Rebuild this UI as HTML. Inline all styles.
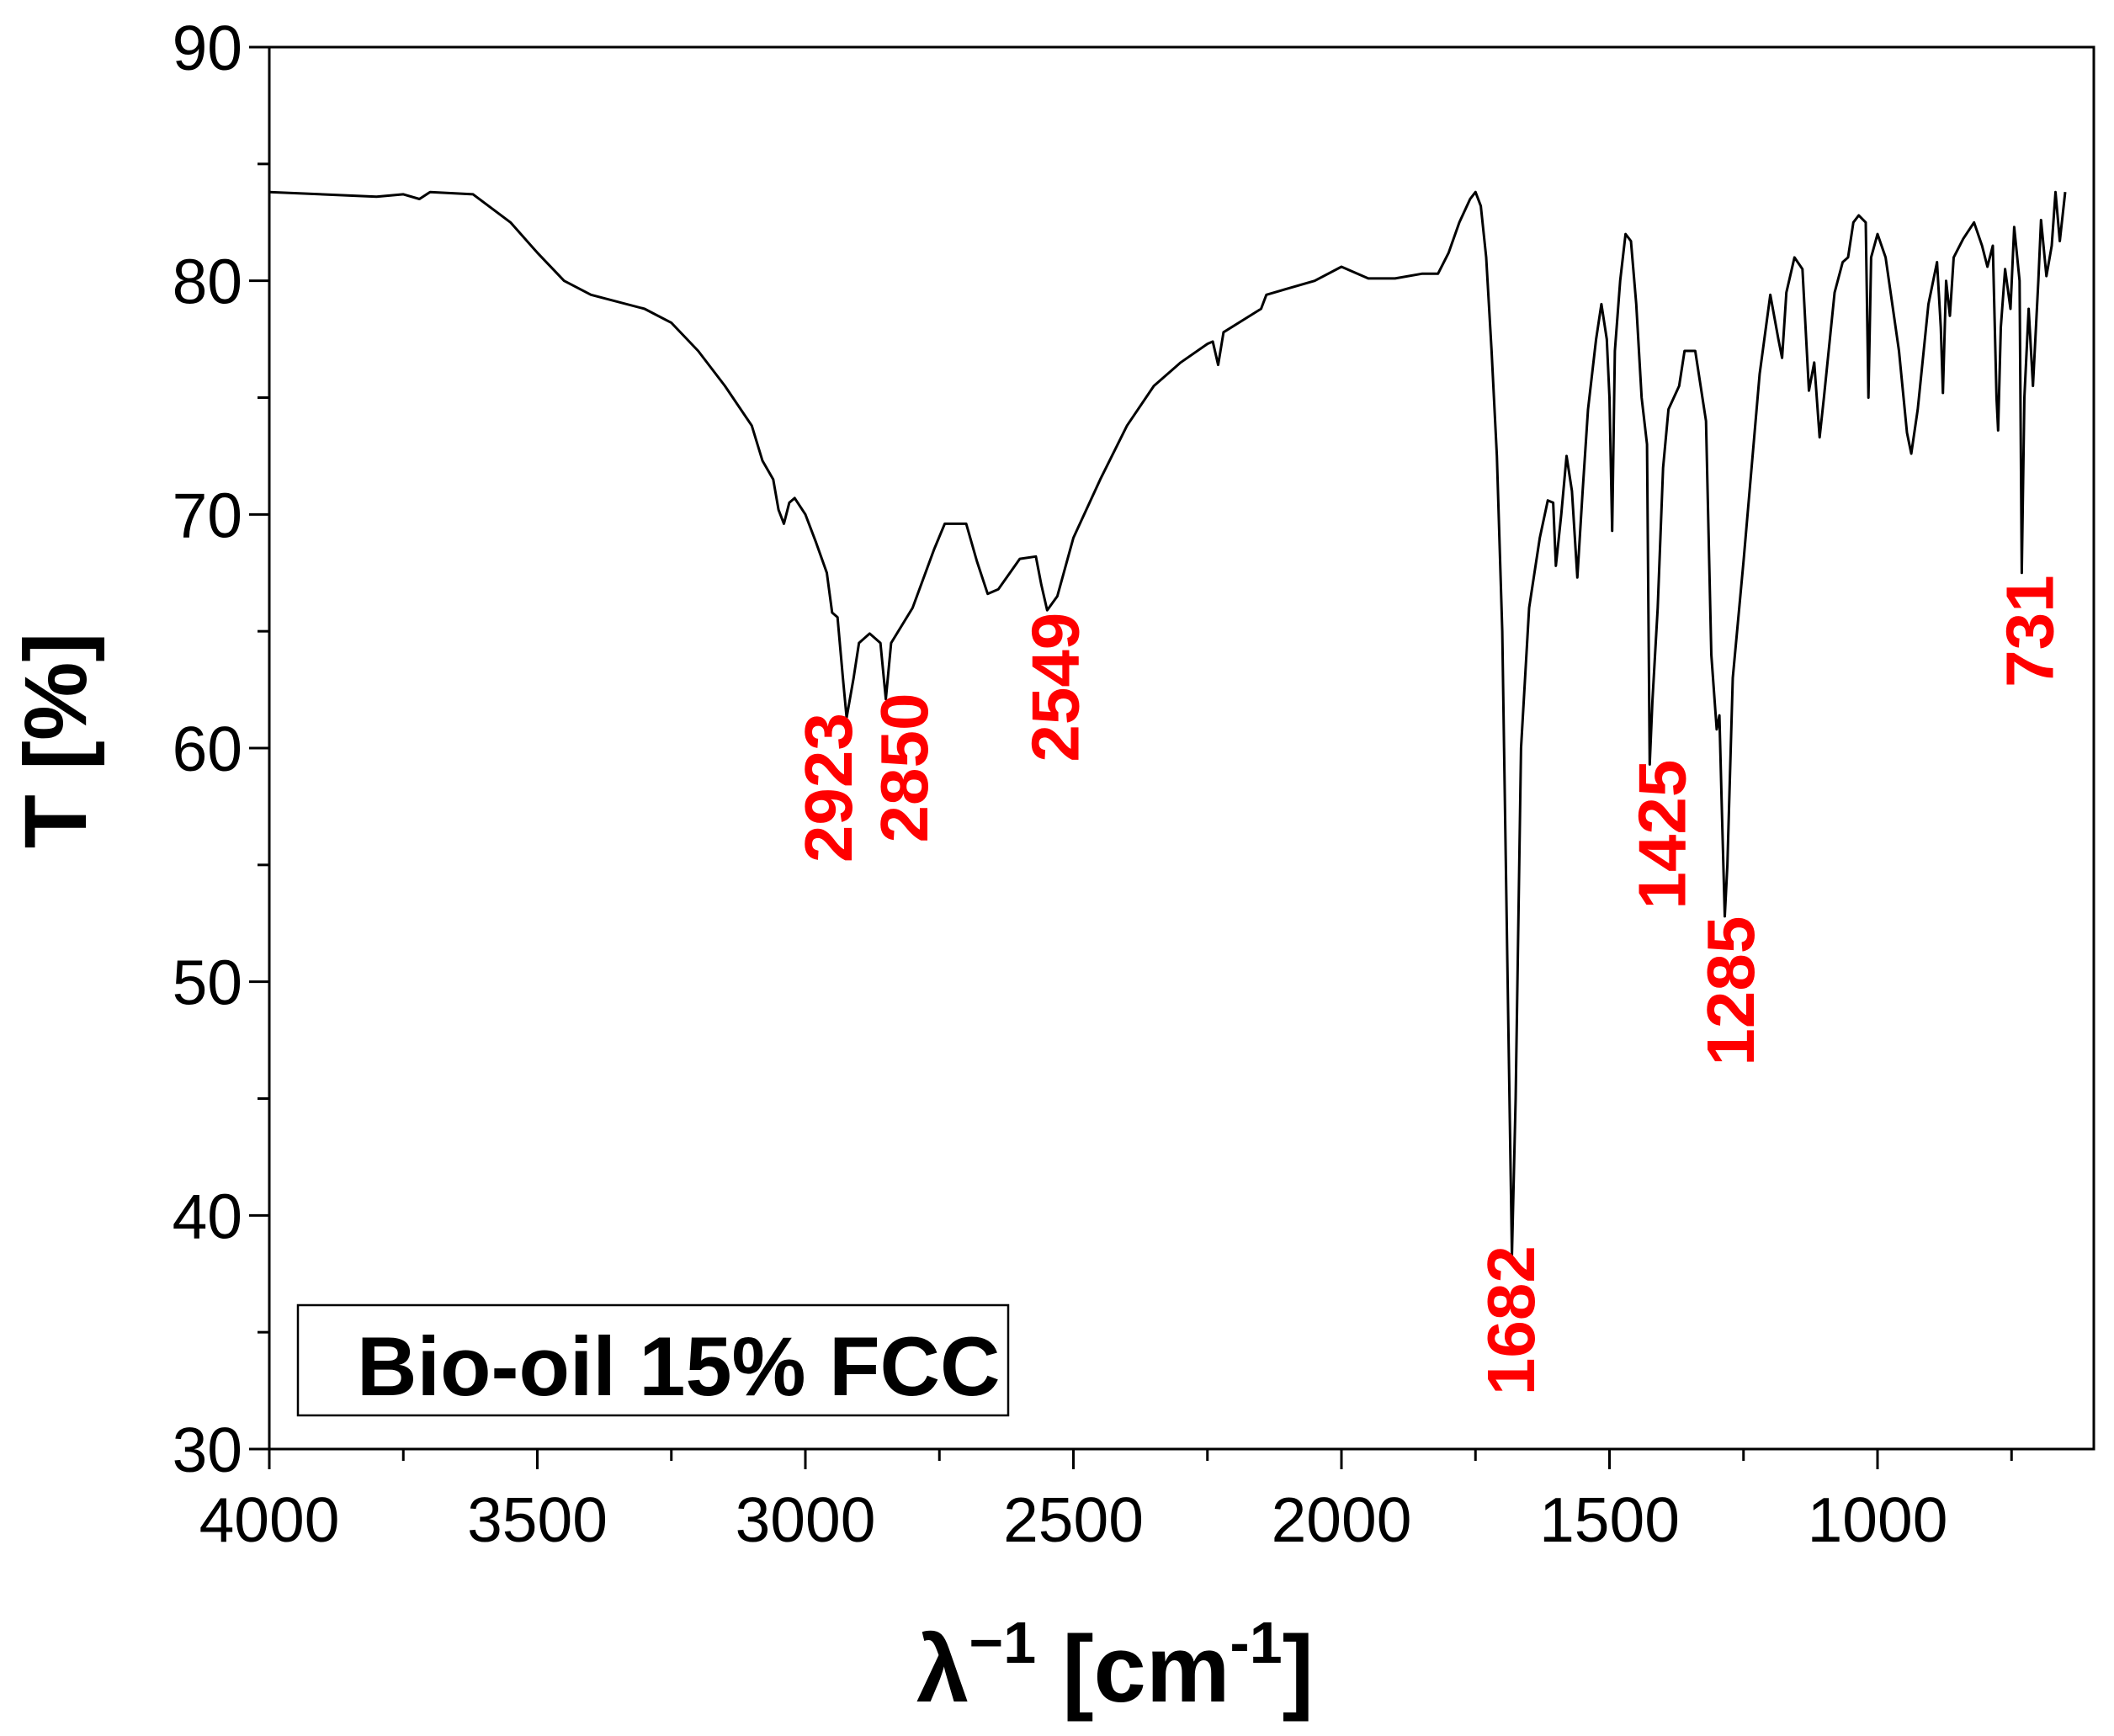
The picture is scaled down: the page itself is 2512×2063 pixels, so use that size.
<!DOCTYPE html>
<html><head><meta charset="utf-8"><style>
html,body{margin:0;padding:0;background:#fff;}
svg{display:block;font-family:"Liberation Sans",Arial,sans-serif;}
</style></head><body>
<svg id="chart" width="2512" height="2063" viewBox="0 0 2512 2063">
<rect width="2512" height="2063" fill="#fff"/>
<g id="axes"></g>
<path id="spectrum" fill="none" stroke="#000" stroke-width="3" stroke-linejoin="round"/>
<g id="labels"></g>
<rect x="354" y="1551" width="844" height="131" fill="#fff" stroke="#000" stroke-width="2.5"/>
<text x="424" y="1658" font-size="99" font-weight="bold">Bio-oil 15% FCC</text>
<text x="102" y="880" font-size="105" font-weight="bold" text-anchor="middle" transform="rotate(-90 102 880)">T [%]</text>
<text x="1325" y="2022" font-size="112" font-weight="bold" text-anchor="middle">λ<tspan font-size="70" dy="-46">−1</tspan><tspan dy="46"> [cm</tspan><tspan font-size="70" dy="-46">-1</tspan><tspan dy="46">]</tspan></text>
</svg>
<script>
const xTicks=[4000,3500,3000,2500,2000,1500,1000];
const yTicks=[30,40,50,60,70,80,90];
const wavenumbers=[4000,3800,3750,3720,3700,3620,3550,3500,3450,3400,3300,3250,3200,3150,3100,3080,3060,3050,3040,3030,3020,3000,2980,2960,2950,2940,2930,2923,2910,2900,2880,2860,2850,2840,2800,2760,2740,2700,2680,2660,2640,2600,2570,2560,2549,2530,2500,2450,2400,2350,2300,2250,2240,2230,2220,2150,2140,2050,2000,1950,1900,1850,1820,1800,1780,1760,1750,1740,1730,1720,1710,1700,1690,1682,1675,1665,1650,1630,1615,1605,1600,1590,1580,1570,1560,1550,1540,1525,1515,1505,1500,1495,1490,1480,1470,1460,1450,1440,1430,1425,1420,1410,1400,1390,1370,1360,1340,1320,1310,1300,1295,1290,1285,1280,1270,1250,1220,1200,1185,1178,1170,1155,1140,1128,1118,1108,1100,1080,1065,1055,1045,1035,1022,1017,1012,1000,985,960,945,937,925,905,889,882,878,872,865,858,840,820,805,795,785,778,775,770,762,752,745,735,731,726,718,710,700,695,685,675,668,660,650];
const transmittance=[83.8,83.6,83.7,83.5,83.8,83.7,82.5,81.2,80.0,79.4,78.8,78.2,77,75.5,73.8,72.3,71.5,70.2,69.6,70.5,70.7,70,68.8,67.5,65.8,65.6,63,61.3,63,64.5,64.9,64.5,62.1,64.5,66,68.5,69.6,69.6,68,66.6,66.8,68.1,68.2,67,65.9,66.5,69,71.5,73.8,75.5,76.5,77.3,77.4,76.4,77.8,78.8,79.4,80,80.6,80.1,80.1,80.3,80.3,81.2,82.5,83.5,83.8,83.2,81,77,72.5,65,50,38.3,45,60,66,69,70.6,70.5,67.8,70,72.5,71,67.3,71,74.5,77.5,79,77.5,75,69.3,77,80,82,81.7,79,75,73,59.3,62,66,72,74.5,75.5,77,77,74,64,60.8,61.4,57,52.8,55,63,68,76,79.4,77.5,76.7,79.5,81,80.5,75.3,76.5,73.3,75,79.5,80.8,81,82.5,82.8,82.5,75,81,82,81,77,73.5,72.6,74.5,79,80.8,78,75.2,80,78.5,81,81.8,82.5,81.5,80.6,81.5,75,73.6,78,80.5,78.8,82.3,80,67.5,75,78.8,75.5,80,82.6,80.2,81.5,83.8,81.7,83.8];
const peakLabels=["2923","2850","2549","1682","1425","1285","731"];
const labelWn=[2959,2818,2536,1686,1404,1276,718];
const labelStartT=[55.1,55.95,59.4,32.3,53.1,46.4,62.6];

const L=320,R=2488,T=56,B=1722;
const xs=w=>L+(4000-w)/3000*(2231-L);
const ys=v=>B-(v-30)/60*(B-T);
const NS="http://www.w3.org/2000/svg";
function mk(tag,attrs,parent){const e=document.createElementNS(NS,tag);for(const k in attrs)e.setAttribute(k,attrs[k]);parent.appendChild(e);return e;}
const ax=document.getElementById('axes');
const frame=mk('rect',{x:L,y:T,width:R-L,height:B-T,fill:'none',stroke:'#000','stroke-width':3},ax);


xTicks.forEach(v=>{
 const x=xs(v);
 const t=mk('line',{x1:x,x2:x,y1:B,y2:B+24,stroke:'#000','stroke-width':3},ax);
 
 
 const m=mk('line',{x1:xs(v-250),x2:xs(v-250),y1:B,y2:B+14,stroke:'#000','stroke-width':3},ax);
 
 
 const lb=mk('text',{x:x,y:B+110,'font-size':75,'text-anchor':'middle'},ax);lb.textContent=v;
 
 
});
yTicks.forEach(v=>{
 const y=ys(v);
 const t=mk('line',{x1:L-24,x2:L,y1:y,y2:y,stroke:'#000','stroke-width':3},ax);
 
 
 if(v<90){const m=mk('line',{x1:L-14,x2:L,y1:ys(v+5),y2:ys(v+5),stroke:'#000','stroke-width':3},ax);
 
 }
 const lb=mk('text',{x:L-32,y:y+27,'font-size':75,'text-anchor':'end'},ax);lb.textContent=v;
 
 
});
let d='';wavenumbers.forEach((w,i)=>{d+=(i?'L':'M')+xs(w).toFixed(1)+','+ys(transmittance[i]).toFixed(1);});
document.getElementById('spectrum').setAttribute('d',d);
const lg=document.getElementById('labels');
peakLabels.forEach((s,i)=>{
 const x=xs(labelWn[i])+29,y=ys(labelStartT[i]);
 const t=mk('text',{x:x,y:y,'font-size':80,'font-weight':'bold',fill:'#ff0000',transform:`rotate(-90 ${x} ${y})`},lg);
 t.textContent=s;
 
 
});
</script>
</body></html>
